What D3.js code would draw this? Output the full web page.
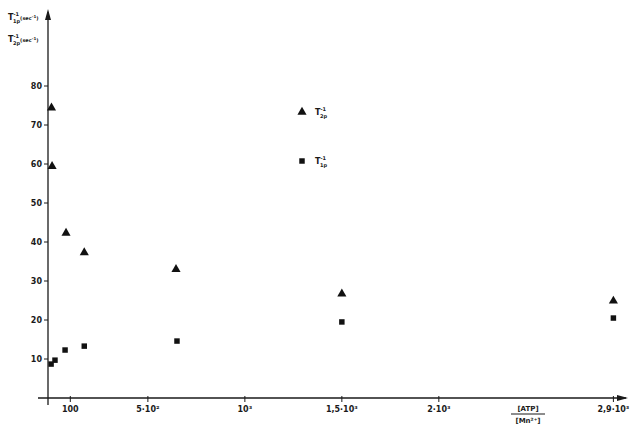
<!DOCTYPE html>
<html>
<head>
<meta charset="utf-8">
<script src="https://cdn.jsdelivr.net/npm/d3@7"></script>
<style>
  body { margin: 0; background: #fff; }
  text { font-family: "DejaVu Sans", sans-serif; font-weight: bold; fill: #1a1a1a; }
</style>
</head>
<body>
<div id="chart"></div>
<script>
// ATP / Mn2+ ratio and relaxation rates
const triX = [3, 6, 78, 172, 645, 1500, 2900];
const triY = [74.4, 59.4, 42.3, 37.3, 33.0, 26.7, 24.9];
const sqX = [1, 21, 73, 172, 650, 1500, 2900];
const sqY = [8.7, 9.7, 12.3, 13.3, 14.6, 19.5, 20.5];
const xTicks = [100, 500, 1000, 1500, 2000, 2900];
const xTickLabels = ['100', '5·10²', '10³', '1,5·10³', '2·10³', '2,9·10³'];
const yTicks = [10, 20, 30, 40, 50, 60, 70, 80];

const width = 631, height = 429;
const svg = d3.select('#chart').append('svg')
    .attr('width', width)
    .attr('height', height);

const x = d3.scaleLinear().domain([-15, 2965]).range([48, 626]);
const y = d3.scaleLinear().domain([0, 100]).range([398, 8]);

// axes
const ax = svg.append('g').attr('stroke', '#1a1a1a').attr('stroke-width', 1.3);
ax.append('line').attr('x1', 38).attr('x2', x.range()[1]).attr('y1', y(0)).attr('y2', y(0));
ax.append('line').attr('x1', x(-15)).attr('x2', x(-15)).attr('y1', 405).attr('y2', 12);

svg.append('path')
    .attr('d', `M${x(-15) - 3},${20} L${x(-15)},${9} L${x(-15) + 3},${20} Z`)
    .attr('fill', '#1a1a1a');
svg.append('path')
    .attr('d', `M${x.range()[1] - 9},${y(0) - 3} L${x.range()[1] + 2},${y(0)} L${x.range()[1] - 9},${y(0) + 3} Z`)
    .attr('fill', '#1a1a1a');

const gx = svg.append('g');
gx.selectAll('line').data(xTicks).join('line')
    .attr('x1', d => x(d)).attr('x2', d => x(d))
    .attr('y1', y(0) - 2).attr('y2', y(0) + 4)
    .attr('stroke', '#1a1a1a').attr('stroke-width', 1);
gx.selectAll('text').data(xTicks).join('text')
    .attr('x', d => x(d)).attr('y', y(0) + 14)
    .attr('text-anchor', 'middle')
    .attr('font-size', 8)
    .text((d, i) => xTickLabels[i]);

const gy = svg.append('g');
gy.selectAll('line').data(yTicks).join('line')
    .attr('x1', x(-15) - 4).attr('x2', x(-15))
    .attr('y1', d => y(d)).attr('y2', d => y(d))
    .attr('stroke', '#1a1a1a').attr('stroke-width', 1);
gy.selectAll('text').data(yTicks).join('text')
    .attr('x', x(-15) - 6).attr('y', d => y(d) + 3)
    .attr('text-anchor', 'end')
    .attr('font-size', 8)
    .text(d => d);

// axis titles
function rateLabel(g, px, py, sub, unit) {
    const t = g.append('text').attr('x', px).attr('y', py).attr('font-size', 8);
    t.append('tspan').text('T');
    t.append('tspan').attr('font-size', 5).attr('dy', -4).text('-1');
    t.append('tspan').attr('font-size', 5).attr('dx', -6).attr('dy', 7).text(sub);
    if (unit) {
        t.append('tspan').attr('font-size', 5).attr('dy', -3).text('(sec');
        t.append('tspan').attr('font-size', 4).attr('dy', -2).text('-1');
        t.append('tspan').attr('font-size', 5).attr('dy', 2).text(')');
    }
    return t;
}
rateLabel(svg, 8, 20, '1p', true);
rateLabel(svg, 8, 42, '2p', true);

const xt = svg.append('g').attr('transform', 'translate(528,0)');
xt.append('text').attr('x', 0).attr('y', 411).attr('text-anchor', 'middle').attr('font-size', 7).text('[ATP]');
xt.append('line').attr('x1', -17).attr('x2', 17).attr('y1', 414).attr('y2', 414)
    .attr('stroke', '#1a1a1a').attr('stroke-width', 1);
xt.append('text').attr('x', 0).attr('y', 423).attr('text-anchor', 'middle').attr('font-size', 7).text('[Mn²⁺]');

// data marks
const tri = d3.symbol().type(d3.symbolTriangle).size(36);
const sq = d3.symbol().type(d3.symbolSquare).size(30);

svg.append('g').selectAll('path').data(triX).join('path')
    .attr('transform', (d, i) => `translate(${x(d)},${y(triY[i])})`)
    .attr('d', tri)
    .attr('fill', '#111');
svg.append('g').selectAll('path').data(sqX).join('path')
    .attr('transform', (d, i) => `translate(${x(d)},${y(sqY[i])})`)
    .attr('d', sq)
    .attr('fill', '#111');

// legend
const lg = svg.append('g');
lg.append('path').attr('transform', 'translate(302,112)').attr('d', tri).attr('fill', '#111');
lg.append('path').attr('transform', 'translate(302,161)').attr('d', sq).attr('fill', '#111');
rateLabel(lg, 315, 115, '2p', false);
rateLabel(lg, 315, 164, '1p', false);
</script>
</body>
</html>
